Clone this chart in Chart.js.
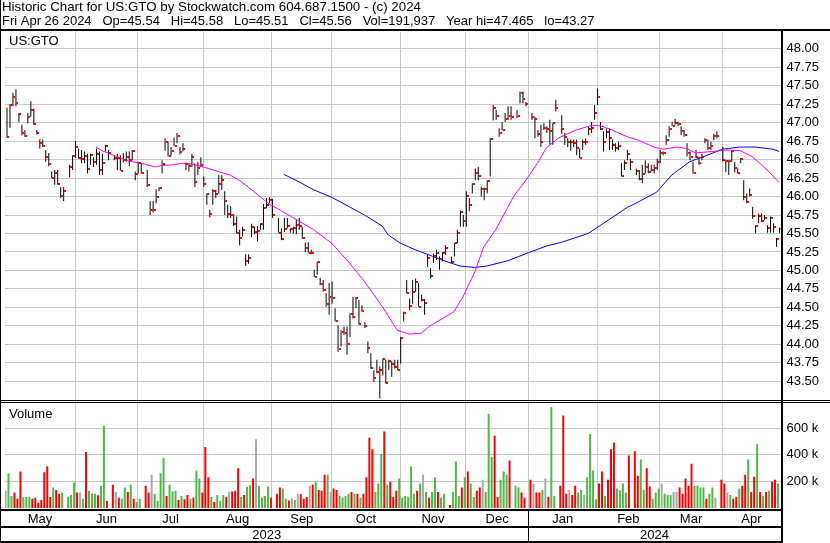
<!DOCTYPE html>
<html>
<head>
<meta charset="utf-8">
<script src="https://cdn.jsdelivr.net/npm/chart.js@4.4.1/dist/chart.umd.min.js"></script>
<style>
  html, body { margin: 0; padding: 0; background: #fff; }
  canvas { display: block; }
</style>
</head>
<body>
<canvas id="chart" width="830" height="543"></canvas>
<script>
const headerTitle = 'Historic Chart for US:GTO by Stockwatch.com 604.687.1500 - (c) 2024';
const headerQuote = 'Fri Apr 26 2024   Op=45.54   Hi=45.58   Lo=45.51   Cl=45.56   Vol=191,937   Year hi=47.465   lo=43.27';
const symbol = 'US:GTO';

const monthNames = ['May', 'Jun', 'Jul', 'Aug', 'Sep', 'Oct', 'Nov', 'Dec', 'Jan', 'Feb', 'Mar', 'Apr'];
const yearNames = ['2023', '2024'];
const priceTicks = [43.5, 43.75, 44, 44.25, 44.5, 44.75, 45, 45.25, 45.5, 45.75, 46, 46.25, 46.5, 46.75, 47, 47.25, 47.5, 47.75, 48];
const volumeTicks = [200, 400, 600];

// one slot per weekday, May 1 2023 .. Apr 26 2024; null = market closed
const highs = [
  47.20, 47.25, 47.40, 47.45, 47.13, 46.97, 46.90, 47.13, 47.29, 47.19,
  46.90, 46.77, 46.77, 46.63, 46.59, 46.34, 46.36, 46.36, 46.13, 46.13,
  null, 46.43, 46.56, 46.75, 46.65, 46.63, 46.61, 46.58, 46.58, 46.53,
  46.65, 46.61, 46.58, 46.70, 46.63, null, 46.56, 46.58, 46.56, 46.59,
  46.61, 46.61, 46.63, 46.34, 46.47, 46.45, null, 46.36, 45.94, 45.94,
  46.10, 46.13, 46.49, 46.79, 46.74, 46.67, 46.80, 46.86, 46.67, 46.72,
  46.46, 46.44, 46.58, 46.45, 46.47, 46.53, 46.27, 46.04, 45.82, 46.10,
  46.09, 46.29, 46.29, 46.07, 45.89, 45.87, 45.76, 45.73, 45.55, 45.59,
  45.22, 45.22, 45.63, 45.59, 45.60, 45.64, 45.90, 45.98, 45.99, 45.97,
  null, 45.71, 45.57, 45.71, 45.71, 45.57, 45.59, 45.69, 45.71, 45.59,
  45.38, 45.38, 45.28, 45.01, 45.12, 44.90, 44.87, 44.69, 44.83, 44.85,
  44.49, 44.26, 44.19, 44.24, 44.24, 44.42, 44.64, 44.64, 44.60, 44.53,
  44.30, 44.04, 43.88, 43.65, 43.79, 43.70, 43.81, 43.79, 43.79, 43.77,
  43.79, 43.79, 44.10, 44.44, 44.87, 44.62, 44.87, 44.89, 44.83, 44.67,
  44.61, 45.21, 45.03, 45.23, 45.28, 45.19, 45.25, 45.34, null, 45.19,
  45.37, 45.55, 45.81, 45.75, 46.07, 45.98, 46.18, 46.38, 46.40, 46.13,
  46.12, 46.22, 46.79, 47.24, 47.17, 46.92, 47.01, 47.13, 47.22, 47.22,
  null, 47.17, 47.42, 47.42, 47.28, null, 47.13, 47.08, 46.90, 46.97,
  46.99, 46.95, 47.04, 46.99, 47.31, null, 47.10, 46.86, 46.79, 46.77,
  46.77, 46.77, 46.65, 46.77, 46.79, 46.95, 47.01, 47.24, 47.46, 47.01,
  46.88, 46.92, 46.92, 46.77, 46.72, 46.74, 46.45, 46.49, 46.63, 46.51,
  null, 46.38, 46.36, 46.43, 46.49, 46.45, 46.43, 46.43, 46.51, 46.63,
  46.61, 46.83, 46.95, 47.01, 47.05, 47.01, 46.95, 46.90, 46.72, 46.61,
  46.47, 46.63, 46.54, 46.58, 46.79, 46.77, 46.74, 46.85, 46.88, null,
  46.67, 46.49, 46.49, 46.63, 46.47, 46.38, 46.52, 46.22, 46.04, 46.11,
  45.86, 45.61, 45.77, 45.77, 45.75, 45.61, 45.73, 45.64, 45.44, 45.58
];
const lows = [
  46.80, 46.93, 47.22, 47.22, 47.01, 46.83, 46.81, 46.99, 47.08, 46.97,
  46.84, 46.65, 46.67, 46.47, 46.41, 46.25, 46.16, 46.16, 45.98, 45.94,
  null, 46.26, 46.36, 46.52, 46.51, 46.45, 46.45, 46.31, 46.43, 46.40,
  46.43, 46.29, 46.29, 46.61, 46.49, null, 46.49, 46.36, 46.35, 46.46,
  46.47, 46.41, 46.49, 46.22, 46.31, 46.31, null, 46.13, 45.75, 45.78,
  45.91, 46.07, 46.31, 46.62, 46.54, 46.56, 46.68, 46.72, 46.57, 46.61,
  46.36, 46.34, 46.40, 46.13, 46.29, 46.40, 46.13, 45.89, 45.72, 45.89,
  45.98, 46.04, 46.09, 45.75, 45.71, 45.71, 45.60, 45.50, 45.34, 45.46,
  45.06, 45.09, 45.45, 45.49, 45.39, 45.55, 45.55, 45.84, 45.91, 45.71,
  null, 45.51, 45.41, 45.52, 45.57, 45.51, 45.50, 45.49, 45.55, 45.43,
  45.25, 45.24, 45.22, 44.91, 44.94, 44.80, 44.71, 44.51, 44.40, 44.55,
  44.31, 43.90, 43.97, 44.13, 43.86, 44.10, 44.35, 44.49, 44.27, 44.44,
  44.22, 43.88, 43.67, 43.49, 43.61, 43.27, 43.58, 43.47, 43.65, 43.56,
  43.67, 43.65, 43.74, 44.31, 44.69, 44.46, 44.55, 44.71, 44.51, 44.58,
  44.40, 45.05, 44.89, 45.10, 45.14, 45.01, 45.12, 45.21, null, 45.10,
  45.19, 45.37, 45.59, 45.59, 45.59, 45.80, 46.04, 46.22, 46.22, 46.00,
  45.95, 46.04, 46.27, 47.03, 47.04, 46.81, 46.90, 47.01, 47.04, 47.04,
  null, 47.06, 47.26, 47.26, 47.22, null, 47.04, 46.79, 46.81, 46.67,
  46.90, 46.86, 46.70, 46.70, 47.15, null, 46.85, 46.70, 46.67, 46.62,
  46.67, 46.56, 46.52, 46.63, 46.70, 46.83, 46.86, 47.04, 47.24, 46.90,
  46.61, 46.79, 46.63, 46.63, 46.61, 46.63, 46.27, 46.36, 46.49, 46.36,
  null, 46.29, 46.22, 46.18, 46.31, 46.31, 46.34, 46.31, 46.36, 46.45,
  46.56, 46.70, 46.81, 46.95, 46.97, 46.95, 46.83, 46.81, 46.54, 46.49,
  46.31, 46.52, 46.43, 46.49, 46.72, 46.63, 46.63, 46.76, 46.79, null,
  46.47, 46.33, 46.29, 46.47, 46.33, 46.31, 46.45, 45.95, 45.91, 46.00,
  45.70, 45.50, 45.64, 45.66, 45.68, 45.51, 45.51, 45.51, 45.32, 45.51
];
const closes = [
  46.81, 47.24, 47.34, 47.27, 47.11, 46.86, 46.82, 47.08, 47.17, 46.98,
  46.86, 46.73, 46.68, 46.54, 46.44, 46.25, 46.32, 46.17, 46.01, 46.07,
  null, 46.40, 46.55, 46.67, 46.52, 46.51, 46.55, 46.37, 46.56, 46.47,
  46.58, 46.36, 46.46, 46.69, 46.59, null, 46.52, 46.52, 46.35, 46.49,
  46.54, 46.49, 46.62, 46.30, 46.46, 46.32, null, 46.16, 45.82, 45.82,
  46.00, 46.11, 46.44, 46.74, 46.55, 46.61, 46.68, 46.82, 46.60, 46.64,
  46.44, 46.41, 46.53, 46.20, 46.38, 46.43, 46.17, 46.03, 45.76, 46.08,
  46.04, 46.17, 46.22, 45.94, 45.76, 45.75, 45.63, 45.51, 45.44, 45.55,
  45.13, 45.17, 45.59, 45.52, 45.54, 45.63, 45.85, 45.88, 45.95, 45.75,
  null, 45.51, 45.43, 45.56, 45.60, 45.56, 45.57, 45.62, 45.60, 45.44,
  45.30, 45.24, 45.24, 44.91, 45.12, 44.82, 44.73, 44.55, 44.64, 44.63,
  44.32, 43.94, 44.17, 44.16, 44.00, 44.41, 44.37, 44.63, 44.28, 44.45,
  44.25, 43.95, 43.68, 43.54, 43.62, 43.65, 43.80, 43.48, 43.77, 43.74,
  43.70, 43.65, 44.09, 44.43, 44.70, 44.52, 44.71, 44.85, 44.51, 44.60,
  44.56, 45.17, 44.92, 45.19, 45.23, 45.15, 45.23, 45.31, null, 45.11,
  45.37, 45.50, 45.79, 45.67, 46.01, 45.89, 46.17, 46.32, 46.28, 46.10,
  46.10, 46.21, 46.78, 47.20, 47.09, 46.86, 46.90, 47.05, 47.09, 47.07,
  null, 47.09, 47.40, 47.32, 47.25, null, 47.07, 47.05, 46.84, 46.74,
  46.93, 46.91, 46.88, 46.99, 47.20, null, 46.91, 46.81, 46.74, 46.74,
  46.72, 46.65, 46.52, 46.74, 46.74, 46.91, 46.93, 47.13, 47.35, 46.92,
  46.74, 46.87, 46.79, 46.70, 46.66, 46.68, 46.28, 46.45, 46.58, 46.47,
  null, 46.35, 46.24, 46.30, 46.40, 46.33, 46.36, 46.39, 46.47, 46.59,
  46.59, 46.77, 46.91, 46.96, 47.00, 46.98, 46.89, 46.83, 46.59, 46.54,
  46.32, 46.54, 46.45, 46.54, 46.76, 46.65, 46.68, 46.82, 46.82, null,
  46.49, 46.48, 46.48, 46.61, 46.38, 46.32, 46.51, 45.99, 45.93, 46.02,
  45.73, 45.60, 45.73, 45.67, 45.71, 45.58, 45.71, 45.59, 45.43, 45.56
];
// thousands of shares
const volumes = [
  129, 261, 90, 116, 70, 274, 83, 83, 83, 70,
  78, 40, 60, 269, 315, 83, 154, 136, 108, 116,
  null, 85, 98, 192, 116, 116, 70, 422, 129, 108,
  108, 96, 167, 620, 52, null, 175, 121, 78, 70,
  154, 121, 175, 70, 45, 70, null, 167, 116, 251,
  108, 52, 261, 376, 90, 175, 124, 129, 60, 90,
  65, 98, 70, 78, 282, 223, 116, 460, 231, 83,
  45, 98, 52, 98, 85, 121, 124, 129, 299, 83,
  98, 159, 172, 223, 518, 167, 78, 90, 162, 78,
  null, 108, 154, 147, 70, 57, 73, 60, 108, 103,
  70, 83, 167, 175, 197, 136, 129, 251, 251, 121,
  147, 136, 90, 78, 90, 108, 121, 108, 108, 78,
  108, 231, 529, 442, 121, 185, 409, 575, 175, 197,
  83, 129, 223, 78, 90, 85, 312, 108, 129, 185,
  251, 121, 78, 121, 231, 121, 78, 108, null, 22,
  121, 350, 90, 154, 231, 274, 185, 83, 129, 154,
  213, 121, 710, 383, 544, 83, 213, 274, 251, 358,
  null, 167, 154, 116, 78, null, 213, 185, 116, 116,
  136, 223, 85, 758, 90, null, 167, 697, 108, 136,
  98, 167, 116, 136, 98, 231, 557, 282, 65, 185,
  274, 90, 213, 442, 493, 147, 134, 185, 116, 396,
  null, 427, 243, 366, 136, 299, 162, 70, 116, 147,
  185, 108, 98, 98, 121, 121, 154, 108, 223, 167,
  333, 167, 167, 154, 154, 70, 108, 154, 78, null,
  213, 185, 116, 98, 70, 85, 147, 167, 251, 366,
  121, 236, 480, 121, 90, 121, 129, 197, 213, 185
];
// g = up day, r = down day, n = unchanged, - = closed
const volumeTrend = (
  'nggrrrgggr' + 'rrrrrrgrrg' + '-gggrngrgg' + 'grggr-rnrg' + 'grgrgg-rrn' +
  'ggggrgggrg' + 'rrgrggrrrg' + 'rgggrnrrrg' + 'rggrnggggr' + '-rrggrngnr' +
  'rrnrgrrrgn' + 'rrggggrgrg' + 'rrrrgggrgr' + 'rrggggggrg' + 'ngrggrgg-r' +
  'gggrgrggrr' + 'ngggrrgggr' + '-ggrr-rnrr' + 'gnrgg-rrrn' + 'rrggnggggr' +
  'rgrrrggggr' + '-rrggrrggg' + 'ngggnnrrrr' + 'rggggrggn-' + 'rrngrrgrrg' +
  'rrgrgrgrrg'
).split('');

// moving averages read at sample days
const fastMaDay = [30, 32, 37, 41, 46, 50, 52, 56, 59, 62, 66, 70, 75, 78, 81, 85, 88, 92, 98, 103,
  109, 115, 120, 126, 131, 135, 139, 142, 147, 150, 153, 157, 160, 164, 170, 175, 178, 181, 185, 187,
  191, 196, 199, 203, 208, 212, 217, 220, 225, 228, 231, 237, 241, 246, 250, 255, 259];
const fastMa = [46.67, 46.62, 46.54, 46.48, 46.44, 46.40, 46.42, 46.43, 46.45, 46.44, 46.40, 46.35, 46.29, 46.22, 46.13, 46.00, 45.90, 45.81, 45.67, 45.55,
  45.37, 45.10, 44.85, 44.51, 44.19, 44.14, 44.15, 44.25, 44.37, 44.44, 44.64, 44.98, 45.32, 45.55, 46.00, 46.27, 46.45, 46.66, 46.79, 46.83,
  46.90, 46.96, 46.96, 46.90, 46.81, 46.76, 46.67, 46.64, 46.67, 46.65, 46.59, 46.61, 46.63, 46.62, 46.54, 46.36, 46.19];
const slowMaDay = [93, 98, 103, 109, 115, 120, 126, 128, 132, 137, 141, 146, 152, 157, 161, 168,
  175, 181, 186, 195, 201, 208, 212, 218, 223, 229, 235, 240, 246, 251, 257, 259];
const slowMa = [46.30, 46.20, 46.09, 45.99, 45.86, 45.75, 45.60, 45.48, 45.37, 45.28, 45.22, 45.14, 45.06, 45.04, 45.06, 45.13,
  45.24, 45.33, 45.38, 45.50, 45.66, 45.85, 45.93, 46.06, 46.29, 46.47, 46.56, 46.64, 46.67, 46.67, 46.64, 46.61];

const FONT_FAMILY = '"Liberation Sans", Arial, sans-serif';
const GRID = '#c8c8c8';
const trendColor = { g: '#50b848', r: '#ff0000', n: '#a8a8a8' };

// weekday calendar behind the slots
const days = [];
for (let d = new Date(2023, 4, 1); d <= new Date(2024, 3, 26); d.setDate(d.getDate() + 1)) {
  if (d.getDay() % 6 !== 0) days.push(new Date(d));
}
// month gridline sits on the 1st, or on the Friday before when the 1st is a weekend
const monthStarts = [];
for (let i = 1; i < days.length; i++) {
  if (days[i].getMonth() !== days[i - 1].getMonth()) {
    monthStarts.push(days[i].getDate() === 1 ? i : i - 1);
  }
}
const yearStart = monthStarts[monthNames.indexOf('Jan') - 1];

const priceBars = [], closeMarks = [], volBars = [], volColors = [];
highs.forEach((h, i) => {
  if (h === null) return;
  priceBars.push({ x: i, y: [lows[i], h] });
  closeMarks.push({ x: i, y: closes[i] });
  volBars.push({ x: i, y: volumes[i] });
  volColors.push(trendColor[volumeTrend[i]]);
});

// red close tick to the right of each bar
const closeTick = document.createElement('canvas');
closeTick.width = 6;
closeTick.height = 2;
const tctx = closeTick.getContext('2d');
tctx.fillStyle = '#ff0000';
tctx.fillRect(4, 0, 2, 2);

const frame = {
  id: 'frame',
  beforeDatasetsDraw(chart) {
    chart.ctx.imageSmoothingEnabled = false;
  },
  afterDatasetsDraw(chart) {
    chart.ctx.imageSmoothingEnabled = true;
  },
  afterDraw(chart) {
    const { ctx, width, height, chartArea } = chart;
    const { x, y } = chart.scales;
    const b = chartArea.bottom;
    ctx.save();
    ctx.fillStyle = '#000';
    ctx.font = '13px ' + FONT_FAMILY;
    ctx.textAlign = 'left';
    ctx.textBaseline = 'alphabetic';
    // the title line runs a little wider than this font, stretch it to 419px
    const titleW = ctx.measureText(headerTitle).width;
    ctx.save();
    ctx.translate(2, 11);
    ctx.scale(419 / titleW, 1);
    ctx.fillText(headerTitle, 0, 0);
    ctx.restore();
    ctx.fillText(headerQuote, 2, 25);
    ctx.fillRect(0, 29, width, 2);

    ctx.fillRect(0, 0, 1, height);
    ctx.fillRect(781, 31, 2, height - 31);

    ctx.fillRect(0, y.bottom, width, 1);
    ctx.fillRect(0, y.bottom + 2, width, 1);

    ctx.fillText(symbol, 9, 45);
    ctx.fillText('Volume', 9, y.bottom + 18);

    ctx.fillRect(0, b + 1, 783, 2);
    ctx.fillRect(0, b + 18, 783, 2);
    ctx.fillRect(0, height - 2, 783, 2);
    const yearX = Math.round(x.getPixelForValue(yearStart));
    ctx.fillRect(yearX, b + 3, 1, height - b - 5);

    ctx.textAlign = 'center';
    const edges = [x.left, ...monthStarts.map(s => x.getPixelForValue(s)), x.right];
    monthNames.forEach((m, k) => ctx.fillText(m, (edges[k] + edges[k + 1]) / 2, b + 15));
    const yEdges = [x.left, x.getPixelForValue(yearStart), x.right];
    yearNames.forEach((t, k) => ctx.fillText(t, (yEdges[k] + yEdges[k + 1]) / 2, height - 4));
    ctx.restore();
  }
};

Chart.defaults.font.family = FONT_FAMILY;
Chart.defaults.font.size = 13;
Chart.defaults.color = '#000';

new Chart(document.getElementById('chart'), {
  type: 'bar',
  data: {
    datasets: [
      { label: 'Volume', data: volBars, yAxisID: 'yv', backgroundColor: volColors,
        barThickness: 2, inflateAmount: 0, order: 3 },
      { label: 'Range', data: priceBars, yAxisID: 'y', backgroundColor: '#000',
        barThickness: 1, inflateAmount: 0, order: 4 },
      { type: 'line', label: 'Close', data: closeMarks, yAxisID: 'y', showLine: false,
        pointStyle: closeTick, pointRadius: 2, order: 0 },
      { type: 'line', label: 'Fast MA', yAxisID: 'y', order: 1,
        data: fastMaDay.map((d, k) => ({ x: d, y: fastMa[k] })),
        borderColor: '#ff00ff', borderWidth: 1, pointRadius: 0, tension: 0 },
      { type: 'line', label: 'Slow MA', yAxisID: 'y', order: 2,
        data: slowMaDay.map((d, k) => ({ x: d, y: slowMa[k] })),
        borderColor: '#0000ff', borderWidth: 1, pointRadius: 0, tension: 0 }
    ]
  },
  options: {
    responsive: false,
    animation: false,
    devicePixelRatio: 1,
    layout: { padding: { left: 0.5, right: 0, top: 32, bottom: 35 } },
    plugins: { legend: { display: false }, tooltip: { enabled: false } },
    scales: {
      x: {
        type: 'linear', min: -0.5, max: 259.5, offset: false,
        grid: { color: GRID, offset: false, drawTicks: false },
        border: { display: false },
        ticks: { display: false },
        afterBuildTicks: s => { s.ticks = monthStarts.map(v => ({ value: v })); },
        afterFit: s => { s.height = 0; }
      },
      y: {
        position: 'right', stack: 'panels', stackWeight: 368,
        min: 43.247, max: 48.226,
        grid: { color: GRID, drawTicks: false },
        border: { display: false },
        ticks: { padding: 6, autoSkip: false, callback: v => v.toFixed(2) },
        afterBuildTicks: s => { s.ticks = priceTicks.map(v => ({ value: v })); },
        afterFit: s => { s.width = 49.5; }
      },
      yv: {
        position: 'right', stack: 'panels', stackWeight: 108,
        min: 0, max: 813,
        grid: { color: GRID, drawTicks: false },
        border: { display: false },
        ticks: { padding: 6, autoSkip: false, callback: v => v + ' k' },
        afterBuildTicks: s => { s.ticks = volumeTicks.map(v => ({ value: v })); },
        afterFit: s => { s.width = 49.5; }
      }
    }
  },
  plugins: [frame]
});
</script>
</body>
</html>
